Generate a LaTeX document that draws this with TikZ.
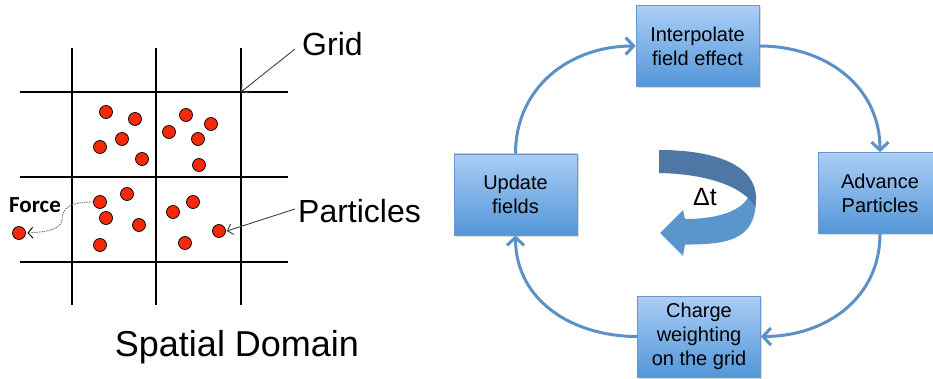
\documentclass[tikz,border=0pt]{standalone}
\usepackage{fontspec}
\setmainfont{Liberation Sans}
\newfontfamily\forcefont{Carlito}
\usetikzlibrary{arrows.meta,shadows}
\definecolor{partred}{HTML}{F52A0A}
\definecolor{boxtop}{HTML}{ABCEF6}
\definecolor{boxbot}{HTML}{5396D8}
\definecolor{boxline}{HTML}{6A98CC}
\definecolor{cycblue}{HTML}{5B91C6}
\definecolor{darkrib}{HTML}{4F77A6}
\definecolor{lightrib}{HTML}{5A95CB}
\begin{document}
\begin{tikzpicture}[x=1pt,y=1pt,
  gridline/.style={line width=2.2pt,black},
  particle/.style={circle,draw=black,line width=0.7pt,fill=partred,inner sep=0pt,minimum size=13pt},
  stepbox/.style={rectangle,draw=boxline,line width=0.7pt,top color=boxtop,bottom color=boxbot,
     minimum width=123pt,minimum height=81pt,align=center,inner sep=0pt,
     font=\fontsize{20}{24}\selectfont,
     drop shadow={shadow xshift=1.5pt,shadow yshift=-1.5pt,opacity=0.3}},
  cyc/.style={draw=cycblue,line width=3pt,-{Straight Barb[length=8pt,width=17pt]}},
  pointer/.style={draw=black!75,line width=0.9pt,-{Straight Barb[length=5pt,width=11pt]}},
  biglabel/.style={font=\fontsize{32}{38}\selectfont,inner sep=0pt,anchor=west}
]
\useasboundingbox (0,0) rectangle (933,-379);

% ---- grid ----
\foreach \x in {72,156,241} \draw[gridline] (\x,-48) -- (\x,-305);
\foreach \y in {92,177,262} \draw[gridline] (20,-\y) -- (288,-\y);
\coordinate (gc) at (241,-92);

% ---- particles ----
\foreach \n/\x/\y in {1/106/112,2/135/119,3/122/139,4/100/147,5/142/159,
  6/186/115,7/211/124,8/169/132,9/198/139,10/199/165,
  11/100/202,12/127/194,13/106/218,14/139/225,15/100/245,
  16/193/202,17/173/212,18/219/231,19/185/243,20/19/233}
  \node[particle] (p\n) at (\x,-\y) {};

% ---- labels ----
\node[biglabel] (gridlbl) at (302,-44) {Grid};
\node[biglabel] (partlbl) at (298,-211) {Particles};
\node[font=\forcefont\bfseries\fontsize{23}{26}\selectfont,inner sep=0pt] (forcelbl) at (35,-205) {Force};
\node[font=\fontsize{36}{42}\selectfont,inner sep=0pt] (domain) at (237,-347) {Spatial Domain};

\draw[pointer] (295,-49) -- (gc);
\draw[pointer] ([xshift=-3pt,yshift=2pt]partlbl.west) -- ([xshift=1pt]p18.east);
\draw[draw=black!55,line width=0.9pt,dash pattern=on 1.5pt off 1pt,
      -{Straight Barb[length=5pt,width=11pt,black]}]
  (p11.west) .. controls (70,-202) and (62,-208) .. (62,-220)
             .. controls (61,-230) and (45,-232) .. ([xshift=1.5pt]p20.east);

% ---- cycle ----
\node[stepbox] (interp) at (697.5,-46) {Interpolate\\field effect};
\node[stepbox] (adv) at (880,-193) {Advance\\Particles};
\node[stepbox] (charge) at (699,-336.5) {Charge\\weighting\\on the grid};
\node[stepbox] (update) at (515.5,-194.5) {Update\\fields};

\draw[cyc] (interp.east) to[out=0,in=90,looseness=1.05] (adv.north);
\draw[cyc] (adv.south) to[out=-90,in=0,looseness=1.05] (charge.east);
\draw[cyc] (charge.west) to[out=180,in=-90,looseness=1.05] (update.south);
\draw[cyc] (update.north) to[out=90,in=180,looseness=1.05] (interp.west);

% ---- delta t ribbon arrow ----
\fill[lightrib] (685,-219) .. controls (720,-219) and (742,-210) .. (749,-196)
   -- (756,-196) .. controls (757,-236) and (735,-245) .. (685,-244.5)
   -- (683,-256) -- (660,-233) -- (683,-210) -- cycle;
\fill[darkrib] (659,-150) .. controls (715,-150) and (756,-165) .. (756,-198)
   -- (755,-207) .. controls (745,-188) and (710,-174) .. (659,-173) -- cycle;
\node[font=\fontsize{25}{28}\selectfont,inner sep=0pt] (dt) at (705,-197) {Δt};
\end{tikzpicture}
\end{document}
